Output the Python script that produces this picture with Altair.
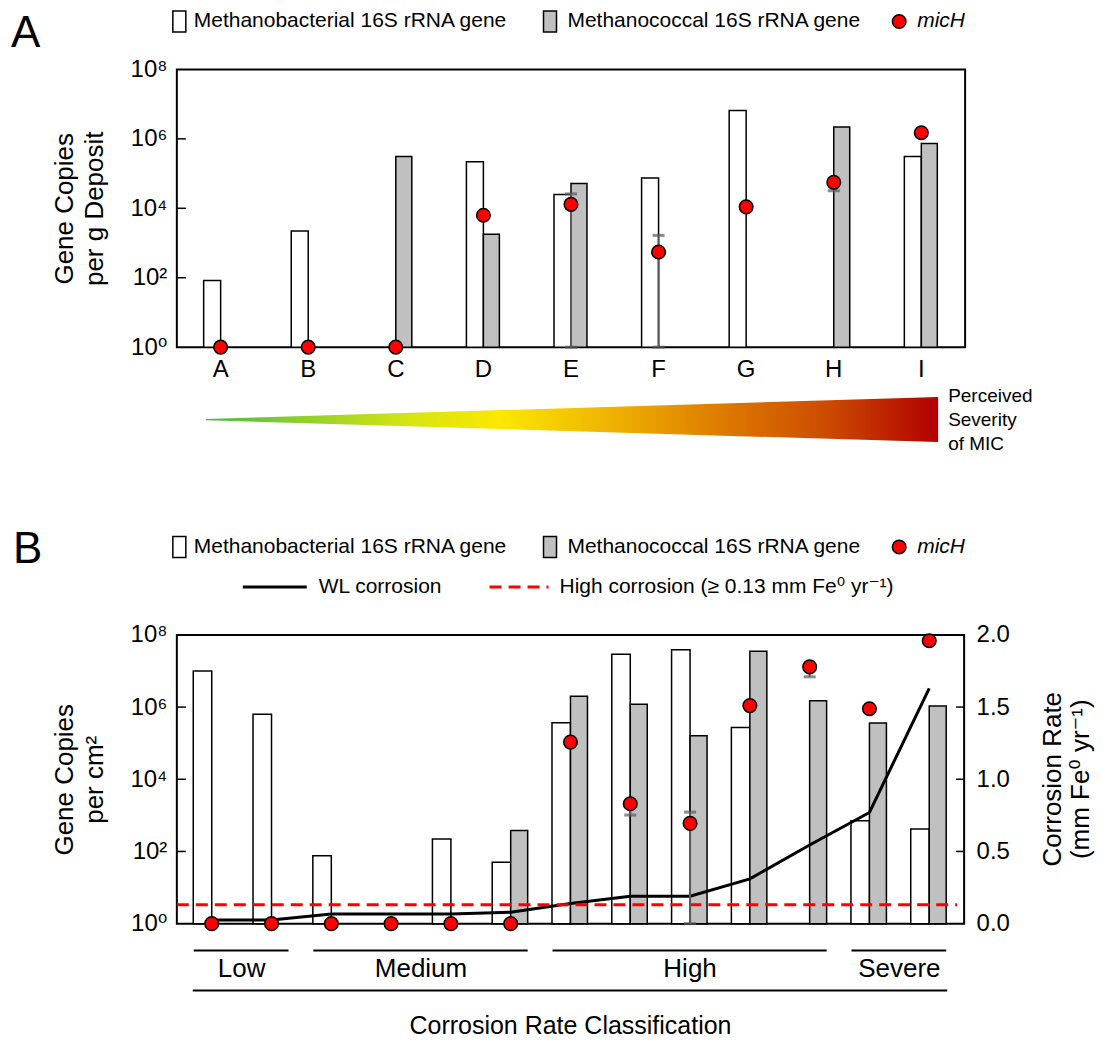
import json
import altair as alt
import pandas as pd

FONT = "Liberation Sans, Arial, Helvetica, DejaVu Sans, sans-serif"

# ---------------- Panel A data (gene copies per g deposit) ----------------
cats_a = ["A", "B", "C", "D", "E", "F", "G", "H", "I"]
methanobact_a = [83, 2200, None, 2.2e5, 2.5e4, 7.4e4, 6.6e6, None, 3.1e5]
methanococ_a = [None, None, 3.1e5, 1800, 5.2e4, None, None, 2.2e6, 7.4e5]
mich_a = [1, 1, 1, 6300, 1.3e4, 550, 1.1e4, 5.6e4, 1.5e6]
mich_err_lo_a = [None, None, None, None, 1, 1, None, 3.2e4, None]
mich_err_hi_a = [None, None, None, None, 2.6e4, 1660, None, 6.0e4, None]

# ---------------- Panel B data (gene copies per cm2, corrosion) ----------------
samples_b = list(range(13))
methanobact_b = [1.0e7, 6.3e5, 76, None, 220, 50, 3.7e5, 2.9e7, 3.9e7, 2.7e5, None, 710, 420]
methanococ_b = [None, None, None, None, None, 380, 2.0e6, 1.2e6, 1.6e5, 3.5e7, 1.5e6, 3.6e5, 1.07e6]
mich_b = [1, 1, 1, 1, 1, 1, 1.07e5, 2.1e3, 600, 1.1e6, 1.3e7, 9.0e5, 6.9e7]
mich_err_lo_b = [None, None, None, None, None, None, None, 1.02e3, 1, None, 6.9e6, None, None]
mich_err_hi_b = [None, None, None, None, None, None, None, 2.5e3, 1.23e3, None, 1.4e7, None, None]
corrosion_b = [0.026, 0.026, 0.067, 0.067, 0.067, 0.079, 0.14, 0.19, 0.19, 0.31, 0.545, 0.77, 1.63]
high_threshold = [0.13]
class_names = ["Low", "Medium", "High", "Severe"]
class_first = [0, 2, 6, 11]
class_last = [1, 5, 10, 12]

# ---------------- axis ticks / labels ----------------
log_tick_values = [1, 1e2, 1e4, 1e6, 1e8]
log_tick_labels = ["10⁰", "10²", "10⁴", "10⁶", "10⁸"]
inner_log_ticks = [1e2, 1e4, 1e6]
rate_tick_values = [0, 0.5, 1.0, 1.5, 2.0]
rate_tick_labels = ["0.0", "0.5", "1.0", "1.5", "2.0"]
inner_rate_ticks = [0.5, 1.0, 1.5]
rate_title = ["Corrosion Rate", "(mm Fe⁰  yr⁻¹)"]

series_names = ["Methanobacterial 16S rRNA gene", "Methanococcal 16S rRNA gene", "micH"]
line_names = ["WL corrosion", "High corrosion (≥ 0.13 mm Fe⁰  yr⁻¹)"]
severity_lines = ["Perceived", "Severity", "of MIC"]

# ---------------- styling ----------------
WA, HA = 789, 278
WB, HB = 788, 289
WHITE_W, GREY_W = 17, 16
WHITE_WB, GREY_WB = 18.5, 17
GREY = "#c0c0c0"
ERR = "#5a5a5a"
DOT_SIZE = 185
LEG = 21

log_label_expr = f"{json.dumps(log_tick_labels, ensure_ascii=False)}[round(log(datum.value)/LN10/2)]"
rate_label_expr = f"{json.dumps(rate_tick_labels)}[round(datum.value*2)]"


def dummy():
    return alt.Chart(pd.DataFrame({"d": [0]}))


def txt(text, x, y, size=LEG, align="left", style="normal", angle=0, baseline="middle"):
    return dummy().mark_text(text=text, fontSize=size, align=align, baseline=baseline,
                             fontStyle=style, color="black", font=FONT, angle=angle).encode(
        x=alt.value(x), y=alt.value(y))


def swatch(x1, x2, y1, y2, fill):
    return dummy().mark_rect(fill=fill, stroke="black", strokeWidth=1.5).encode(
        x=alt.value(x1), x2=alt.value(x2), y=alt.value(y1), y2=alt.value(y2))


def dot(x, y):
    return dummy().mark_circle(color="red", stroke="black", strokeWidth=1.5, size=DOT_SIZE, opacity=1).encode(
        x=alt.value(x), y=alt.value(y))


def legend_row1(yc):
    return [
        swatch(-4, 9, yc - 10.5, yc + 10.5, "white"),
        txt(series_names[0], 17, yc),
        swatch(367, 380, yc - 10.5, yc + 10.5, GREY),
        txt(series_names[1], 391, yc),
        dot(723, yc),
        txt(series_names[2], 741, yc, style="italic"),
    ]


def log_axis(title):
    return alt.Axis(values=log_tick_values, labelExpr=log_label_expr, ticks=False, domain=False,
                    grid=False, labelFontSize=24, labelPadding=10, labelColor="black",
                    title=title, titleFontSize=26, titleFontWeight="normal", titleColor="black",
                    titlePadding=22, titleLineHeight=30, labelFont=FONT, titleFont=FONT)


# =============================== PANEL A ===============================
xa_scale = alt.Scale(domain=cats_a, paddingInner=0, paddingOuter=0)
ya_scale = alt.Scale(type="log", domain=[1, 1e8], nice=False)
xa_axis = alt.Axis(labelAngle=0, ticks=False, domain=False, grid=False, labelFontSize=24,
                   labelPadding=10, labelColor="black", title=None, labelFont=FONT)

df_mb_a = pd.DataFrame({"cat": cats_a, "v": methanobact_a}).dropna()
df_mc_a = pd.DataFrame({"cat": cats_a, "v": methanococ_a}).dropna()
df_mi_a = pd.DataFrame({"cat": cats_a, "v": mich_a}).dropna()
df_er_a = pd.DataFrame({"cat": cats_a, "lo": mich_err_lo_a, "hi": mich_err_hi_a}).dropna()

xa = alt.X("cat:N", scale=xa_scale, sort=cats_a)

bars_mb_a = alt.Chart(df_mb_a).mark_bar(fill="white", stroke="black", strokeWidth=1.5,
                                         width=WHITE_W, xOffset=-WHITE_W / 2).encode(
    x=alt.X("cat:N", scale=xa_scale, axis=xa_axis, sort=cats_a),
    y=alt.Y("v:Q", scale=ya_scale, axis=log_axis(["Gene Copies", "per g Deposit"])),
    y2=alt.datum(1))
bars_mc_a = alt.Chart(df_mc_a).mark_bar(fill=GREY, stroke="black", strokeWidth=1.5,
                                         width=GREY_W, xOffset=GREY_W / 2).encode(
    x=xa, y=alt.Y("v:Q", scale=ya_scale), y2=alt.datum(1))
err_a = alt.Chart(df_er_a).mark_rule(color=ERR, strokeWidth=2).encode(
    x=xa, y=alt.Y("lo:Q", scale=ya_scale), y2="hi:Q")
cap_lo_a = alt.Chart(df_er_a).mark_tick(color=ERR, thickness=3, size=12, orient="horizontal").encode(
    x=xa, y=alt.Y("lo:Q", scale=ya_scale))
cap_hi_a = alt.Chart(df_er_a).mark_tick(color=ERR, thickness=3, size=12, orient="horizontal").encode(
    x=xa, y=alt.Y("hi:Q", scale=ya_scale))
pts_a = alt.Chart(df_mi_a).mark_circle(color="red", stroke="black", strokeWidth=1.5,
                                       size=DOT_SIZE, opacity=1).encode(
    x=xa, y=alt.Y("v:Q", scale=ya_scale))
ticks_a = alt.Chart(pd.DataFrame({"t": inner_log_ticks})).mark_rule(color="black", strokeWidth=1.5).encode(
    y=alt.Y("t:Q", scale=ya_scale), x=alt.value(0), x2=alt.value(9))

inner_a = alt.layer(bars_mb_a, bars_mc_a, err_a, cap_lo_a, cap_hi_a, pts_a, ticks_a)

severity_grad = alt.Gradient(
    gradient="linear", x1=0, x2=1, y1=0, y2=0,
    stops=[
        alt.GradientStop(color="#46b946", offset=0),
        alt.GradientStop(color="#8fcf2c", offset=0.13),
        alt.GradientStop(color="#d8e412", offset=0.28),
        alt.GradientStop(color="#fbe800", offset=0.4),
        alt.GradientStop(color="#f0b400", offset=0.55),
        alt.GradientStop(color="#de7c00", offset=0.7),
        alt.GradientStop(color="#cc4a00", offset=0.85),
        alt.GradientStop(color="#b20000", offset=1),
    ])
tri_df = pd.DataFrame({"t": [0, 1], "top": [0.03, 1], "bot": [-0.03, -1]})
triangle = alt.Chart(tri_df).mark_area(color=severity_grad, opacity=1).encode(
    x=alt.X("t:Q", scale=alt.Scale(domain=[0, 1], range=[29, 762], nice=False, zero=False), axis=None),
    y=alt.Y("top:Q", scale=alt.Scale(domain=[-1, 1], range=[373, 328], nice=False, zero=False), axis=None),
    y2="bot:Q")

annot_a = [txt("A", -166, -35, size=44)] + legend_row1(-48) + [
    txt(severity_lines[0], 772, 327, size=19),
    txt(severity_lines[1], 772, 351, size=19),
    txt(severity_lines[2], 772, 375, size=19),
]

panel_a = alt.layer(inner_a, triangle, *annot_a).resolve_scale(
    x="independent", y="independent").properties(width=WA, height=HA)

# =============================== PANEL B ===============================
xb_scale = alt.Scale(domain=[-0.5, 12.5], nice=False, zero=False)
yb_scale = alt.Scale(type="log", domain=[1, 1e8], nice=False)
rb_scale = alt.Scale(domain=[0, 2], nice=False, zero=True)

df_mb_b = pd.DataFrame({"s": samples_b, "v": methanobact_b}).dropna()
df_mc_b = pd.DataFrame({"s": samples_b, "v": methanococ_b}).dropna()
df_mi_b = pd.DataFrame({"s": samples_b, "v": mich_b}).dropna()
df_er_b = pd.DataFrame({"s": samples_b, "lo": mich_err_lo_b, "hi": mich_err_hi_b}).dropna()
df_cr_b = pd.DataFrame({"s": samples_b, "r": corrosion_b})
df_cls = pd.DataFrame({"name": class_names, "first": class_first, "last": class_last})
df_cls["mid"] = (df_cls["first"] + df_cls["last"]) / 2


def xb(f):
    return alt.X(f, scale=xb_scale, axis=None)


bars_mb_b = alt.Chart(df_mb_b).mark_bar(fill="white", stroke="black", strokeWidth=1.5,
                                         width=WHITE_WB, xOffset=-WHITE_WB / 2).encode(
    x=xb("s:Q"), y=alt.Y("v:Q", scale=yb_scale, axis=log_axis(["Gene Copies", "per cm²"])),
    y2=alt.datum(1))
bars_mc_b = alt.Chart(df_mc_b).mark_bar(fill=GREY, stroke="black", strokeWidth=1.5,
                                         width=GREY_WB, xOffset=GREY_WB / 2).encode(
    x=xb("s:Q"), y=alt.Y("v:Q", scale=yb_scale), y2=alt.datum(1))
ticks_b = alt.Chart(pd.DataFrame({"t": inner_log_ticks})).mark_rule(color="black", strokeWidth=1.5).encode(
    y=alt.Y("t:Q", scale=yb_scale), x=alt.value(0), x2=alt.value(9))
bars_b = alt.layer(bars_mb_b, bars_mc_b, ticks_b)

rate_axis = alt.Axis(orient="right", values=rate_tick_values, labelExpr=rate_label_expr, ticks=False,
                     domain=False, grid=False, labelFontSize=24, labelPadding=12, labelColor="black",
                     title=None, labelFont=FONT)
line_b = alt.Chart(df_cr_b).mark_line(color="black", strokeWidth=3).encode(
    x=xb("s:Q"), y=alt.Y("r:Q", scale=rb_scale, axis=rate_axis))
thr_b = alt.Chart(pd.DataFrame({"thr": high_threshold})).mark_rule(
    color="red", strokeWidth=3, strokeDash=[12, 7]).encode(
    y=alt.Y("thr:Q", scale=rb_scale), x=alt.value(0), x2=alt.value(WB - 7))
rticks_b = alt.Chart(pd.DataFrame({"t": inner_rate_ticks})).mark_rule(color="black", strokeWidth=1.5).encode(
    y=alt.Y("t:Q", scale=rb_scale), x=alt.value(WB - 8), x2=alt.value(WB))
rate_b = alt.layer(line_b, thr_b, rticks_b)

err_b = alt.Chart(df_er_b).mark_rule(color=ERR, strokeWidth=2).encode(
    x=xb("s:Q"), y=alt.Y("lo:Q", scale=yb_scale, axis=None), y2="hi:Q")
cap_lo_b = alt.Chart(df_er_b).mark_tick(color=ERR, thickness=3, size=12, orient="horizontal").encode(
    x=xb("s:Q"), y=alt.Y("lo:Q", scale=yb_scale, axis=None))
cap_hi_b = alt.Chart(df_er_b).mark_tick(color=ERR, thickness=3, size=12, orient="horizontal").encode(
    x=xb("s:Q"), y=alt.Y("hi:Q", scale=yb_scale, axis=None))
pts_b = alt.Chart(df_mi_b).mark_circle(color="red", stroke="black", strokeWidth=1.5,
                                       size=DOT_SIZE, opacity=1).encode(
    x=xb("s:Q"), y=alt.Y("v:Q", scale=yb_scale, axis=None))
points_b = alt.layer(err_b, cap_lo_b, cap_hi_b, pts_b)

cls_rules = alt.Chart(df_cls).mark_rule(color="black", strokeWidth=2, xOffset=-18, x2Offset=17).encode(
    x=xb("first:Q"), x2="last:Q", y=alt.value(HB + 27))
cls_text = alt.Chart(df_cls).mark_text(fontSize=26, baseline="middle", align="center", color="black",
                                       font=FONT).encode(
    x=xb("mid:Q"), y=alt.value(HB + 45), text="name:N")
all_df = pd.DataFrame({"first": [samples_b[0]], "last": [samples_b[-1]],
                       "mid": [(samples_b[0] + samples_b[-1]) / 2],
                       "title": ["Corrosion Rate Classification"]})
all_rule = alt.Chart(all_df).mark_rule(color="black", strokeWidth=2, xOffset=-19, x2Offset=18).encode(
    x=xb("first:Q"), x2="last:Q", y=alt.value(HB + 67))
all_text = alt.Chart(all_df).mark_text(fontSize=25, baseline="middle", align="center", color="black",
                                       font=FONT).encode(
    x=xb("mid:Q"), y=alt.value(HB + 102), text="title:N")

legend_b = [txt("B", -164, -85, size=44)] + legend_row1(-88) + [
    dummy().mark_rule(color="black", strokeWidth=3).encode(
        x=alt.value(66), x2=alt.value(130), y=alt.value(-48)),
    txt(line_names[0], 142, -48),
    dummy().mark_rule(color="red", strokeWidth=3, strokeDash=[12, 7]).encode(
        x=alt.value(313), x2=alt.value(372), y=alt.value(-48)),
    txt(line_names[1], 383, -48),
    txt(rate_title[0], WB + 89, HB / 2, size=26, align="center", angle=270),
    txt(rate_title[1], WB + 130, HB / 2, size=26, align="center", angle=270, baseline="bottom"),
]

panel_b = alt.layer(bars_b, rate_b, points_b, cls_rules, cls_text, all_rule, all_text,
                    *legend_b).resolve_scale(y="independent").properties(width=WB, height=HB)

chart = alt.vconcat(panel_a, panel_b, spacing=72).properties(
    padding={"left": 2, "top": 0, "right": 0, "bottom": 0}
).configure(font=FONT).configure_view(stroke="black", strokeWidth=2)

chart.save("out.html", embed_options={"renderer": "svg", "actions": False})
